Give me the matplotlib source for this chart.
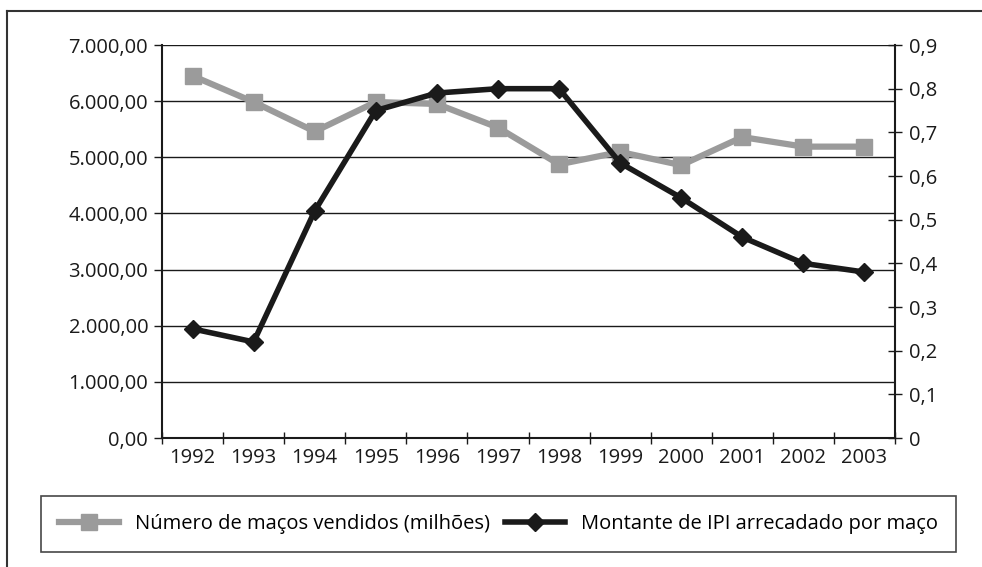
import numpy as np
import matplotlib.pyplot as plt
from matplotlib.lines import Line2D
from matplotlib.ticker import FuncFormatter

plt.rcParams['font.family'] = ['Open Sans', 'DejaVu Sans']

anos = ['1992', '1993', '1994', '1995', '1996', '1997', '1998', '1999', '2000', '2001', '2002', '2003']
macos = [6450, 5985, 5460, 5985, 5950, 5530, 4875, 5095, 4860, 5360, 5190, 5190]
ipi = [0.25, 0.22, 0.52, 0.75, 0.79, 0.80, 0.80, 0.63, 0.55, 0.46, 0.40, 0.38]

left_ticks = np.arange(0, 7001, 1000)
right_ticks = np.arange(0, 0.91, 0.1)

def br_num(v, pos):
    s = '{:,.2f}'.format(v)
    return s.replace(',', 'X').replace('.', ',').replace('X', '.')

def br_dec(v, pos):
    if abs(v) < 1e-9:
        return '0'
    return ('%.1f' % v).replace('.', ',')

fig = plt.figure(figsize=(9.82, 5.67), dpi=100)
ax = fig.add_axes([0.165, 0.2275, 0.7464, 0.6931])
ax2 = ax.twinx()

x = np.arange(len(anos))
gray, = ax.plot(x, macos, color='#9b9b9b', lw=4.5, marker='s', ms=11, mec='#9b9b9b', zorder=3)
black, = ax2.plot(x, ipi, color='#1a1a1a', lw=4, marker='D', ms=9, zorder=4)

ax.set_ylim(0, 7000)
ax2.set_ylim(0, 0.9)
ax.set_xlim(-0.5, len(anos) - 0.5)
ax.set_yticks(left_ticks)
ax2.set_yticks(right_ticks)
ax.yaxis.set_major_formatter(FuncFormatter(br_num))
ax2.yaxis.set_major_formatter(FuncFormatter(br_dec))

ax.set_xticks(np.arange(-0.5, len(anos)), labels=[])
ax.set_xticks(x, minor=True)
ax.set_xticklabels(anos, minor=True)
ax.tick_params(axis='x', which='minor', length=0, labelsize=14.5, pad=7, colors='#1a1a1a')
ax.tick_params(axis='x', which='major', length=9, width=1, direction='inout', color='#1a1a1a')
ax.tick_params(axis='y', length=6, width=1, direction='out', labelsize=14.5, pad=4, colors='#1a1a1a')
ax2.tick_params(axis='y', length=10, width=1, direction='inout', labelsize=14.5, pad=5, colors='#1a1a1a')

ax.grid(axis='y', color='#1a1a1a', lw=1)
ax.set_axisbelow(True)
for s in ['top', 'right']:
    ax.spines[s].set_visible(False)
ax2.spines['top'].set_visible(False)
ax2.spines['left'].set_visible(False)
ax.spines['left'].set_color('#1a1a1a')
ax.spines['left'].set_linewidth(1.5)
ax.spines['bottom'].set_color('#1a1a1a')
ax.spines['bottom'].set_linewidth(1.5)
ax2.spines['right'].set_color('#1a1a1a')
ax2.spines['right'].set_linewidth(1.5)
ax2.spines['bottom'].set_visible(False)

leg = fig.legend([gray, black],
                 ['Número de maços vendidos (milhões)', 'Montante de IPI arrecadado por maço'],
                 loc='center', bbox_to_anchor=(0.5076, 0.0755), ncol=2, fontsize=14.5,
                 frameon=True, fancybox=False, edgecolor='#1a1a1a', handlelength=3.0,
                 columnspacing=0.7, handletextpad=0.8, borderpad=0.9, borderaxespad=0)
leg.get_frame().set_linewidth(1.2)

# outer frame (top and left edges)
fig.add_artist(Line2D([7 / 982, 1], [1 - 11 / 567, 1 - 11 / 567], color='#333333', lw=1.5))
fig.add_artist(Line2D([7 / 982, 7 / 982], [0, 1 - 11 / 567], color='#333333', lw=1.5))

fig.savefig('out.png', dpi=100)
